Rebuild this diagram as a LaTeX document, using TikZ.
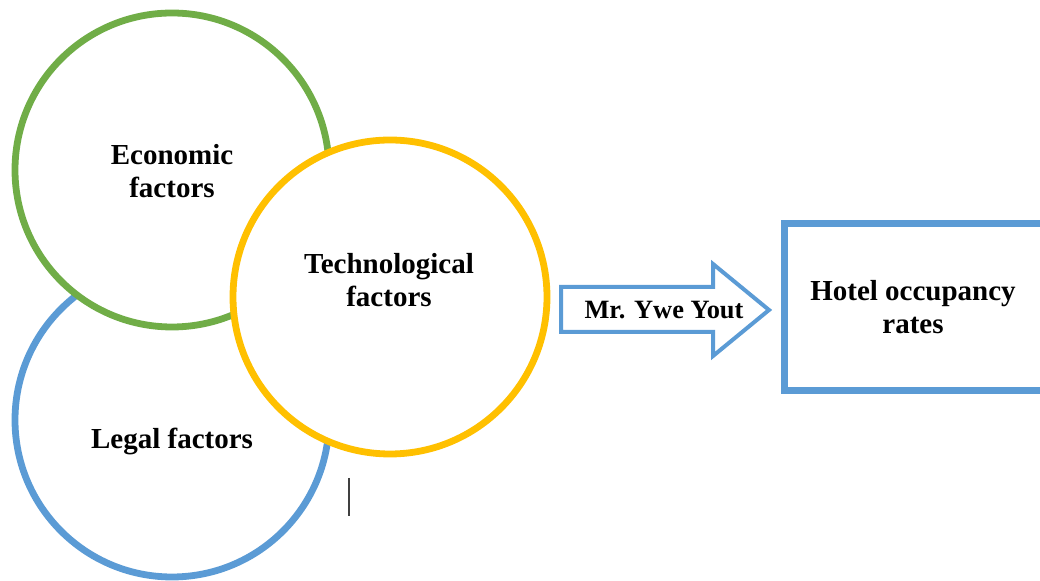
\documentclass[tikz,border=0pt]{standalone}
\usepackage{fontspec}
\setmainfont{Liberation Serif}
\usetikzlibrary{positioning}

\definecolor{ecogreen}{HTML}{70AD47}
\definecolor{techyellow}{HTML}{FFC000}
\definecolor{legalblue}{HTML}{5B9BD5}

\begin{document}
\begin{tikzpicture}[
    x = 0.5pt, y = -0.5pt,
    factor/.style = {shape = circle, line width = 3.4pt, fill = white, minimum size = 157pt, inner sep = 0pt},
    lbl/.style = {align = center, font = \fontsize{14.5}{16.8}\selectfont\bfseries, inner sep = 0pt},
    outcome/.style = {draw = legalblue, line width = 3.5pt, fill = white},
    ]
    \useasboundingbox (0,0) rectangle (1040,581);
    \clip (0,0) rectangle (1040,581);

    % the three overlapping circles, back to front
    \node[factor, draw = legalblue] (legal) at (172,420) {};
    \node[factor, draw = ecogreen] (eco) at (172,170) {};
    \node[factor, draw = techyellow] (tech) at (390,297) {};

    \node[lbl] (ecoText) at (172,171) {Economic\\factors};
    \node[lbl] (techText) at (389,280) {Technological\\factors};
    \node[lbl] (legalText) at (172,441) {Legal factors};

    % block arrow
    \node[lbl, font = \fontsize{13.2}{16}\selectfont\bfseries] (ywe) at (664,310) {Mr. Ywe Yout};
    \coordinate (tip) at (769,310);
    \draw[draw = legalblue, line width = 2pt, line join = miter]
        (561,287) -- (713,287) -- (713,264) -- (tip) -- (713,356) -- (713,332) -- (561,332) -- cycle;

    % outcome box, running off the right edge
    \draw[outcome] (784,223.5) rectangle (1060,390.5);
    \node[lbl] (hotel) at (913,307) {Hotel occupancy\\rates};

    \draw[black!75, line width = 0.8pt] (349,478) -- (349,516);
\end{tikzpicture}
\end{document}
